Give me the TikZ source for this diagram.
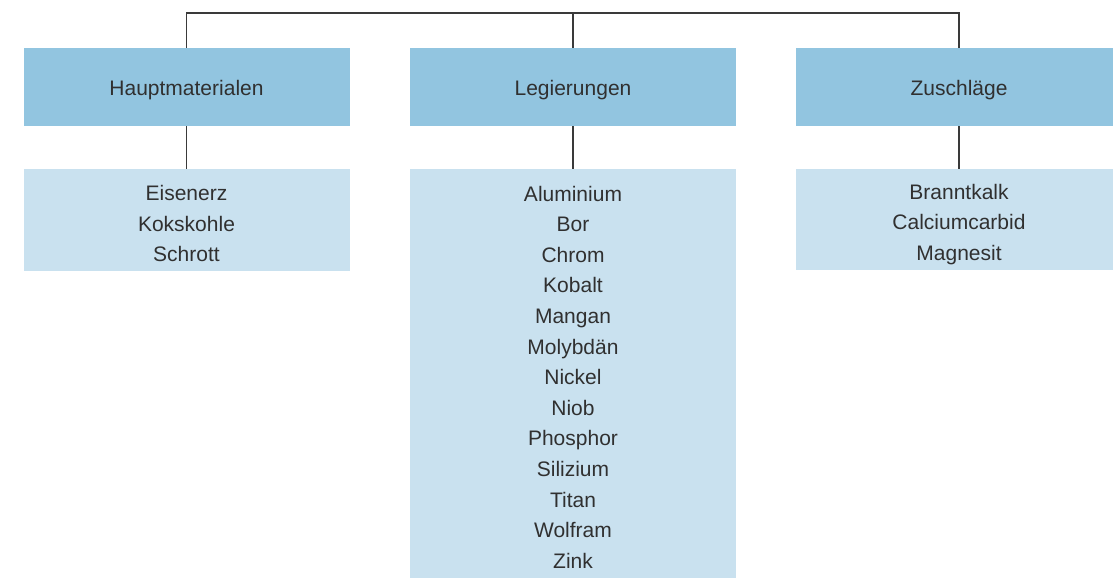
\documentclass[tikz,border=0pt]{standalone}
\usepackage{fontspec}
\setmainfont{Liberation Sans}
\definecolor{headblue}{HTML}{92C5E0}
\definecolor{listblue}{HTML}{C9E1EF}
\definecolor{inkgray}{HTML}{303030}
\definecolor{linegray}{HTML}{3A3A3A}
\begin{document}
\begin{tikzpicture}[x=1pt,y=1pt,
  every node/.style={inner sep=0pt,outer sep=0pt,text=inkgray,
    font=\fontsize{21}{30.6}\selectfont},
  headbox/.style={fill=headblue,minimum width=326,minimum height=78},
  listbox/.style={fill=listblue,minimum width=326},
  caption/.style={align=center,yshift=-3.5pt},
  conn/.style={draw=linegray,line width=1.2pt}]
\clip (0,0) rectangle (1113,-578);
% group headers
\node[headbox] (h1) at (186.5,-87) {};
\node[headbox] (h2) at (573,-87) {};
\node[headbox] (h3) at (959,-87) {};
\node[caption] (t1) at (h1.center) {Hauptmaterialen};
\node[caption] (t2) at (h2.center) {Legierungen};
\node[caption] (t3) at (h3.center) {Zuschläge};
% member lists
\node[listbox,minimum height=102] (l1) at (186.5,-220) {};
\node[listbox,minimum height=409] (l2) at (573,-373.5) {};
\node[listbox,minimum height=101] (l3) at (959,-219.5) {};
\node[caption] (m1) at (l1.center) {Eisenerz\\Kokskohle\\Schrott};
\node[caption] (m2) at (l2.center) {Aluminium\\Bor\\Chrom\\Kobalt\\Mangan\\Molybdän\\Nickel\\Niob\\Phosphor\\Silizium\\Titan\\Wolfram\\Zink};
\node[caption,yshift=-1.5pt] (m3) at (l3.center) {Branntkalk\\Calciumcarbid\\Magnesit};
% bracket joining the three headers
\coordinate (top) at (573,-13);
\draw[conn] (h1.north) |- (h3.north |- top) -- (h3.north);
\draw[conn] (h2.north) -- (h2.north |- top);
% header to list links
\draw[conn] (h1.south) -- (l1.north);
\draw[conn] (h2.south) -- (l2.north);
\draw[conn] (h3.south) -- (l3.north);
\end{tikzpicture}
\end{document}
